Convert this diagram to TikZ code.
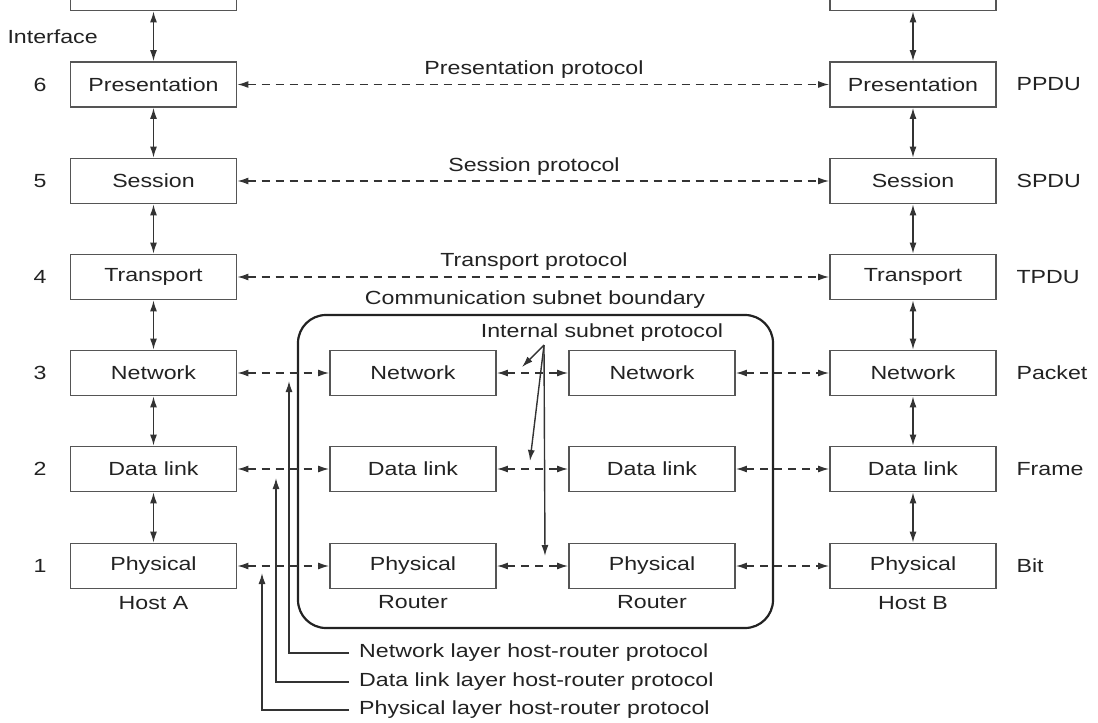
\documentclass[tikz,border=0pt]{standalone}
\usepackage{fontspec}
\setmainfont{Liberation Sans}[FakeStretch=1.22]
\usetikzlibrary{arrows.meta}
\definecolor{ink}{HTML}{222222}
\definecolor{boxgray}{HTML}{555555}
\definecolor{linegray}{HTML}{333333}
\begin{document}
\begin{tikzpicture}[x=1pt,y=-1pt,
  every node/.style={font=\fontsize{19}{23}\selectfont, text=ink},
  layer/.style={draw=boxgray, line width=1.8pt, minimum width=166pt,
                minimum height=45pt, inner sep=0pt},
  proto/.style={draw=linegray, line width=1.4pt, dash pattern=on 8pt off 6pt,
                {Latex[length=11pt,width=7pt]}-{Latex[length=11pt,width=7pt]}},
  iface/.style={draw=linegray, line width=1.4pt,
                {Latex[length=11pt,width=7pt]}-{Latex[length=11pt,width=7pt]}},
  pointer/.style={draw=linegray, line width=1.4pt, -{Latex[length=11pt,width=7pt]}},
  lyrnum/.style={anchor=center},
  unit/.style={anchor=west},
  note/.style={anchor=west, inner xsep=10pt, inner ysep=0pt}]

\useasboundingbox (0,0) rectangle (1098,723);
\clip (0,0) rectangle (1098,723);

% ---- host A stack (top layer runs off the top edge) ----
\node[layer] (a7) at (153.5,-12)  {};
\node[layer] (a6) at (153.5,84.5) {Presentation};
\node[layer] (a5) at (153.5,181)  {Session};
\node[layer] (a4) at (153.5,277)  {Transport};
\node[layer] (a3) at (153.5,373)  {Network};
\node[layer] (a2) at (153.5,469)  {Data link};
\node[layer] (a1) at (153.5,566)  {Physical};

% ---- host B stack ----
\node[layer] (b7) at (913,-12)  {};
\node[layer] (b6) at (913,84.5) {Presentation};
\node[layer] (b5) at (913,181)  {Session};
\node[layer] (b4) at (913,277)  {Transport};
\node[layer] (b3) at (913,373)  {Network};
\node[layer] (b2) at (913,469)  {Data link};
\node[layer] (b1) at (913,566)  {Physical};

% ---- routers ----
\node[layer] (ra3) at (413,373) {Network};
\node[layer] (ra2) at (413,469) {Data link};
\node[layer] (ra1) at (413,566) {Physical};
\node[layer] (rb3) at (652,373) {Network};
\node[layer] (rb2) at (652,469) {Data link};
\node[layer] (rb1) at (652,566) {Physical};

% ---- subnet boundary ----
\draw[draw=ink, line width=2.2pt, rounded corners=28pt] (298,315) rectangle (773,628);
\node (bnd) at (535,300) {Communication subnet boundary};

% ---- layer numbers ----
\node[lyrnum] (n6) at (40,84.5) {6};
\node[lyrnum] (n5) at (40,181)  {5};
\node[lyrnum] (n4) at (40,277)  {4};
\node[lyrnum] (n3) at (40,373)  {3};
\node[lyrnum] (n2) at (40,469)  {2};
\node[lyrnum] (n1) at (40,566)  {1};

% ---- unit names ----
\node[unit] (u6) at (1013,84.5) {PPDU};
\node[unit] (u5) at (1013,181)  {SPDU};
\node[unit] (u4) at (1013,277)  {TPDU};
\node[unit] (u3) at (1013,373)  {Packet};
\node[unit] (u2) at (1013,469)  {Frame};
\node[unit] (u1) at (1013,566)  {Bit};

% ---- machine labels ----
\node (hA) at (153.5,603) {Host A};
\node (hB) at (913,603)   {Host B};
\node (rA) at (413,602)   {Router};
\node (rB) at (652,602)   {Router};
\node[anchor=west] (intf) at (4,37) {Interface};

% ---- interfaces ----
\foreach \s in {a,b}{
  \draw[iface] (\s7) -- (\s6);
  \draw[iface] (\s6) -- (\s5);
  \draw[iface] (\s5) -- (\s4);
  \draw[iface] (\s4) -- (\s3);
  \draw[iface] (\s3) -- (\s2);
  \draw[iface] (\s2) -- (\s1);
}

% ---- peer protocols ----
\draw[proto] (a7) -- (b7);
\draw[proto] (a6) -- (b6);
\draw[proto] (a5) -- (b5);
\draw[proto] (a4) -- (b4);
\node (p6) at (534,70)  {Presentation protocol};
\node (p5) at (534,167) {Session protocol};
\node (p4) at (534,262) {Transport protocol};

\foreach \k in {3,2,1}{
  \draw[proto] (a\k) -- (ra\k);
  \draw[proto] (ra\k) -- (rb\k);
  \draw[proto] (rb\k) -- (b\k);
}

% ---- internal subnet protocol ----
\node (isp) at (602,333) {Internal subnet protocol};
\coordinate (apex) at (544,345);
\coordinate (is3) at (522,367);
\coordinate (is2) at (530,461);
\coordinate (is1) at (545,556);
\draw[pointer] (apex) -- (is3);
\draw[pointer] (apex) -- (is2);
\draw[pointer] (apex) -- (is1);

% ---- host-router protocols ----
\node[note] (hr3t) at (349,653) {Network layer host-router protocol};
\node[note] (hr2t) at (349,682) {Data link layer host-router protocol};
\node[note] (hr1t) at (349,710) {Physical layer host-router protocol};
\coordinate (hr3) at (289,381);
\coordinate (hr2) at (276,478);
\coordinate (hr1) at (262,573);
\draw[pointer] (hr3t.west) -| (hr3);
\draw[pointer] (hr2t.west) -| (hr2);
\draw[pointer] (hr1t.west) -| (hr1);
\end{tikzpicture}
\end{document}
